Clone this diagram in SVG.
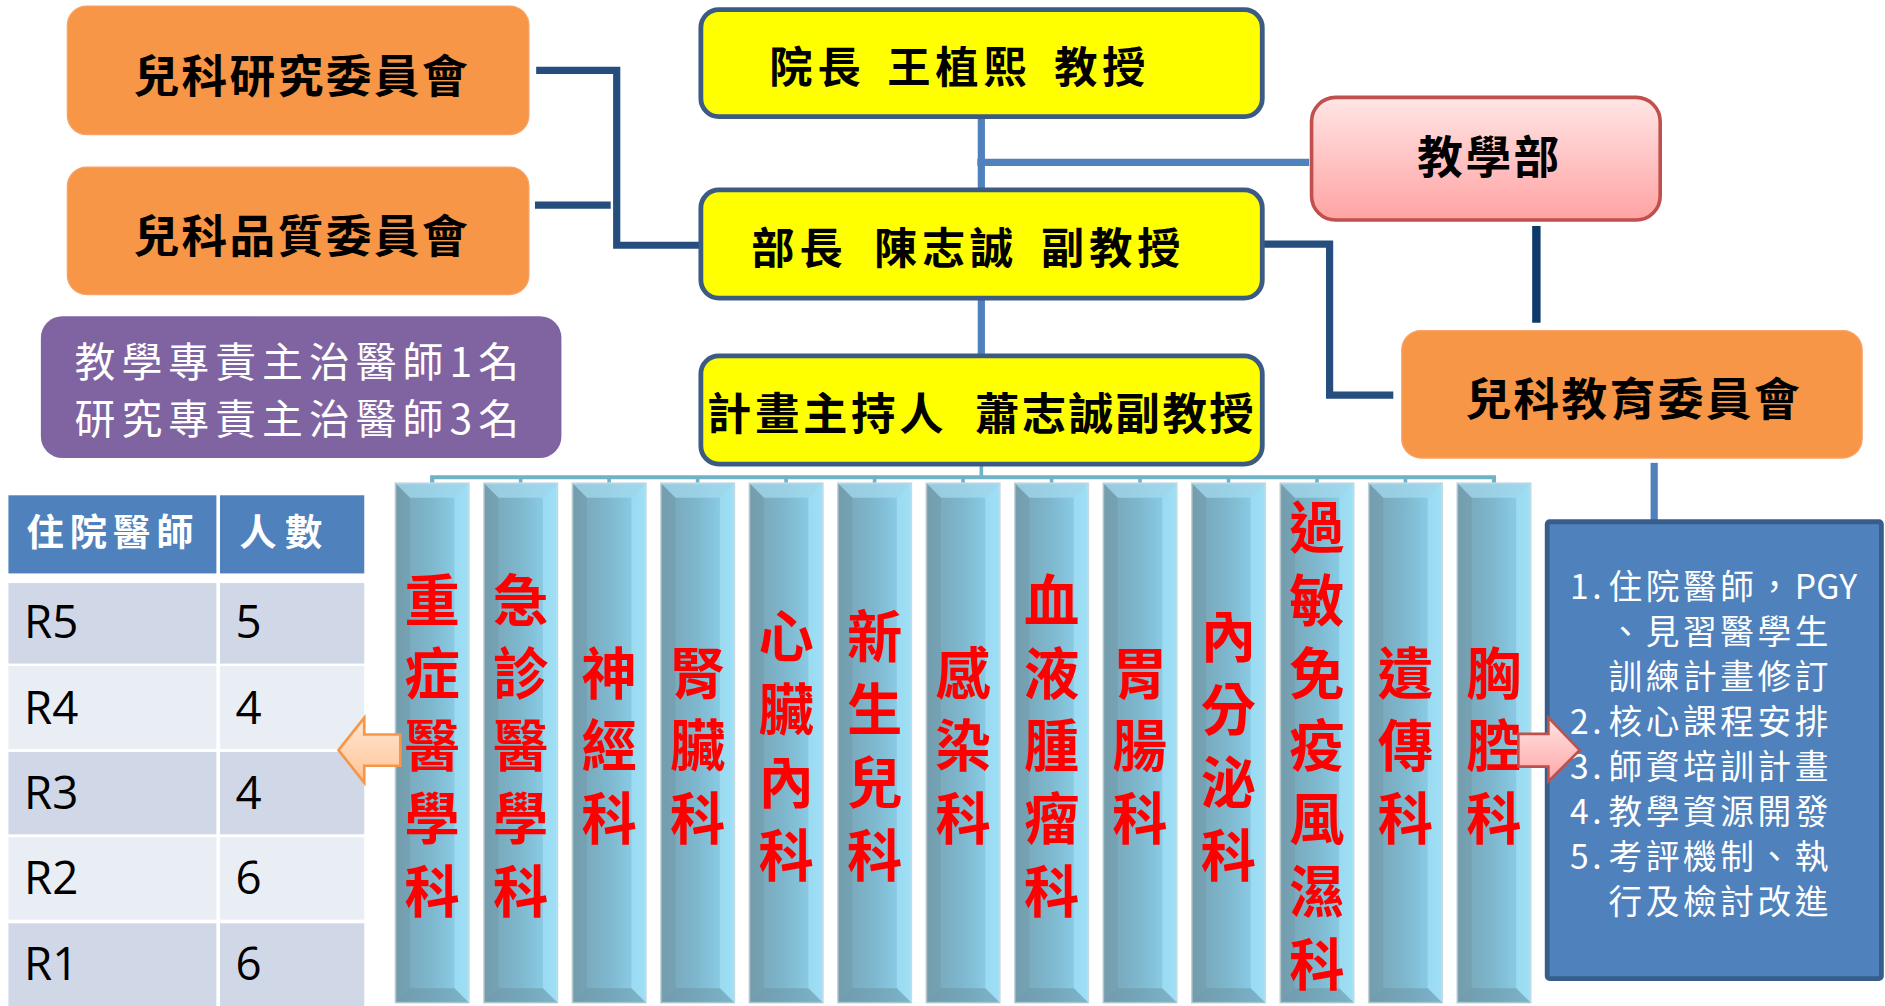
<svg xmlns="http://www.w3.org/2000/svg" xmlns:xlink="http://www.w3.org/1999/xlink" width="1885" height="1006" viewBox="0 0 1885 1006">
<style>
.kai{font-family:"Noto Sans CJK TC","Noto Sans CJK SC",sans-serif;font-weight:700;fill:#000}
.thin{font-family:"Noto Sans CJK TC","Noto Sans CJK SC",sans-serif;font-weight:400;fill:#fff}
.red{font-family:"Noto Sans CJK TC","Noto Sans CJK SC",sans-serif;font-weight:700;fill:#FF0000;font-size:46px;text-anchor:middle}
.num{font-family:"Open Sans","Liberation Sans",sans-serif;font-size:38px;fill:#000}
.orange{fill:#F79646;stroke:#F8A36A;stroke-width:1}
.yellow{fill:#FFFF00;stroke:#3B5B85;stroke-width:4}
.navy{stroke:#254D7E;stroke-width:6;fill:none}
.lblue{stroke:#4F81BD;stroke-width:6;fill:none}
.bus{stroke:#6FB3C9;stroke-width:3.5;fill:none}
.hdr{fill:#4F81BD}
.rowA{fill:#D0D8E8}
.rowB{fill:#E9EDF4}
</style>
<defs>
<linearGradient id="colGrad" x1="0" y1="0" x2="1" y2="0">
<stop offset="0" stop-color="#78A2B3"/>
<stop offset="0.5" stop-color="#7EB8CE"/>
<stop offset="1" stop-color="#90D6F1"/>
</linearGradient>
<linearGradient id="pinkGrad" x1="0" y1="0" x2="0" y2="1">
<stop offset="0" stop-color="#FFE5E5"/>
<stop offset="1" stop-color="#FFA3A3"/>
</linearGradient>
<linearGradient id="orArrow" x1="0" y1="0" x2="0" y2="1">
<stop offset="0" stop-color="#FFE6D2"/>
<stop offset="1" stop-color="#FFC596"/>
</linearGradient>
<linearGradient id="pkArrow" x1="0" y1="0" x2="0" y2="1">
<stop offset="0" stop-color="#FFE2E2"/>
<stop offset="1" stop-color="#FFA8A8"/>
</linearGradient>
<g id="col">
<rect x="0" y="0" width="61" height="432" fill="url(#colGrad)" stroke="#C9D6DC" stroke-width="1.5"/>
<polygon points="0,0 61,0 49,12 12,12" fill="#A6DCEF" opacity="0.7"/>
<polygon points="0,0 12,12 12,420 0,432" fill="#6E97A6" opacity="0.4"/>
<polygon points="61,0 61,432 49,420 49,12" fill="#A8E6FA" opacity="0.6"/>
<polygon points="0,432 61,432 49,420 12,420" fill="#6A93A3" opacity="0.5"/>
</g>
</defs>
<rect width="1885" height="1006" fill="#fff"/>
<g transform="scale(1.20217)">

<g id="connectors">
<polyline class="navy" points="446,58.5 513,58.5 513,204 583,204"/>
<line class="navy" x1="445" y1="170.6" x2="508" y2="170.6"/>
<line class="lblue" x1="816.3" y1="97" x2="816.3" y2="158"/>
<line class="lblue" x1="813" y1="135" x2="1089" y2="135"/>
<line class="lblue" x1="816.3" y1="248" x2="816.3" y2="296"/>
<polyline class="navy" points="1050,203 1106,203 1106,328.6 1159,328.6"/>
<line x1="1278" y1="188" x2="1278" y2="268.4" stroke="#0D3A6B" stroke-width="7"/>
<line class="lblue" x1="1376" y1="385" x2="1376" y2="434"/>
<line x1="816.3" y1="386" x2="816.3" y2="397" stroke="#6FB3C9" stroke-width="3"/>
<polyline class="bus" points="359.5,402 359.5,397 1242.7,397 1242.7,402"/>
<g stroke="#6FB3C9" stroke-width="3">
<line x1="433.1" y1="397" x2="433.1" y2="402"/>
<line x1="506.7" y1="397" x2="506.7" y2="402"/>
<line x1="580.3" y1="397" x2="580.3" y2="402"/>
<line x1="653.9" y1="397" x2="653.9" y2="402"/>
<line x1="727.5" y1="397" x2="727.5" y2="402"/>
<line x1="801.1" y1="397" x2="801.1" y2="402"/>
<line x1="874.7" y1="397" x2="874.7" y2="402"/>
<line x1="948.3" y1="397" x2="948.3" y2="402"/>
<line x1="1021.9" y1="397" x2="1021.9" y2="402"/>
<line x1="1095.5" y1="397" x2="1095.5" y2="402"/>
<line x1="1169.1" y1="397" x2="1169.1" y2="402"/>
</g>
</g>

<g id="research-committee">
<rect class="orange" x="56" y="5" width="384" height="107" rx="16"/>
<text class="kai" x="111" y="77.4" font-size="38" letter-spacing="2">兒科研究委員會</text>
</g>
<g id="quality-committee">
<rect class="orange" x="56" y="139" width="384" height="106" rx="16"/>
<text class="kai" x="111" y="210.7" font-size="38" letter-spacing="2">兒科品質委員會</text>
</g>
<g id="attending-note">
<rect x="34" y="263" width="433" height="118" rx="18" fill="#8064A2"/>
<text class="thin" x="62" y="313.7" font-size="34" letter-spacing="5">教學專責主治醫師1名</text>
<text class="thin" x="62" y="360.8" font-size="34" letter-spacing="5">研究專責主治醫師3名</text>
</g>

<g id="dean">
<rect class="yellow" x="583" y="8" width="467" height="89" rx="15"/>
<text class="kai" y="69" font-size="36" letter-spacing="4"><tspan x="640">院長</tspan><tspan x="738">王植熙</tspan><tspan x="877">教授</tspan></text>
</g>
<g id="chair">
<rect class="yellow" x="583" y="158" width="467" height="90" rx="15"/>
<text class="kai" y="219.5" font-size="36" letter-spacing="4"><tspan x="625">部長</tspan><tspan x="727">陳志誠</tspan><tspan x="866">副教授</tspan></text>
</g>
<g id="pi">
<rect class="yellow" x="583" y="296" width="467" height="90" rx="15"/>
<text class="kai" y="357.8" font-size="37"><tspan x="588" letter-spacing="3">計畫主持人</tspan><tspan x="811" letter-spacing="2">蕭志誠副教授</tspan></text>
</g>

<g id="education-dept">
<rect x="1091" y="81" width="290" height="102" rx="20" fill="url(#pinkGrad)" stroke="#C0504D" stroke-width="3"/>
<text class="kai" x="1179" y="144.7" font-size="38" letter-spacing="2">教學部</text>
</g>
<g id="education-committee">
<rect class="orange" x="1166" y="275" width="383" height="106" rx="16"/>
<text class="kai" x="1219" y="345.7" font-size="38" letter-spacing="2">兒科教育委員會</text>
</g>

<g id="tasks">
<rect x="1287" y="434" width="278" height="380" rx="2" fill="#4F81BD" stroke="#385D8A" stroke-width="4"/>
<g class="thin" font-size="28" letter-spacing="3">
<text y="498"><tspan x="1306">1.</tspan><tspan x="1338">住院醫師，</tspan><tspan letter-spacing="0">PGY</tspan></text>
<text x="1338" y="535.5">、見習醫學生</text>
<text x="1338" y="573">訓練計畫修訂</text>
<text y="610.5"><tspan x="1306">2.</tspan><tspan x="1338">核心課程安排</tspan></text>
<text y="648"><tspan x="1306">3.</tspan><tspan x="1338">師資培訓計畫</tspan></text>
<text y="685.5"><tspan x="1306">4.</tspan><tspan x="1338">教學資源開發</tspan></text>
<text y="723"><tspan x="1306">5.</tspan><tspan x="1338">考評機制、執</tspan></text>
<text x="1338" y="760.5">行及檢討改進</text>
</g>
</g>

<g id="resident-table">
<rect class="hdr" x="7" y="412" width="173" height="65"/>
<rect class="hdr" x="183" y="412" width="120" height="65"/>
<rect class="rowA" x="7" y="485" width="173" height="67"/>
<rect class="rowA" x="183" y="485" width="120" height="67"/>
<rect class="rowB" x="7" y="554" width="173" height="69"/>
<rect class="rowB" x="183" y="554" width="120" height="69"/>
<rect class="rowA" x="7" y="625.5" width="173" height="68.5"/>
<rect class="rowA" x="183" y="625.5" width="120" height="68.5"/>
<rect class="rowB" x="7" y="696.5" width="173" height="68.5"/>
<rect class="rowB" x="183" y="696.5" width="120" height="68.5"/>
<rect class="rowA" x="7" y="768" width="173" height="69"/>
<rect class="rowA" x="183" y="768" width="120" height="69"/>
<text class="kai" x="22" y="454" font-size="31" letter-spacing="5" style="fill:#fff">住院醫師</text>
<text class="kai" x="199" y="454" font-size="31" letter-spacing="7" style="fill:#fff">人數</text>
<text class="num" x="20" y="531">R5</text><text class="num" x="196" y="531">5</text>
<text class="num" x="20" y="602">R4</text><text class="num" x="196" y="602">4</text>
<text class="num" x="20" y="673">R3</text><text class="num" x="196" y="673">4</text>
<text class="num" x="20" y="744">R2</text><text class="num" x="196" y="744">6</text>
<text class="num" x="20" y="815">R1</text><text class="num" x="196" y="815">6</text>
</g>

<g id="div-critical"><use href="#col" x="329" y="402"/><text class="red"><tspan x="359.5" y="516.6">重</tspan><tspan x="359.5" y="577.1">症</tspan><tspan x="359.5" y="637.6">醫</tspan><tspan x="359.5" y="698.1">學</tspan><tspan x="359.5" y="758.6">科</tspan></text></g>
<g id="div-emergency"><use href="#col" x="402.6" y="402"/><text class="red"><tspan x="433.1" y="516.6">急</tspan><tspan x="433.1" y="577.1">診</tspan><tspan x="433.1" y="637.6">醫</tspan><tspan x="433.1" y="698.1">學</tspan><tspan x="433.1" y="758.6">科</tspan></text></g>
<g id="div-neuro"><use href="#col" x="476.2" y="402"/><text class="red"><tspan x="506.7" y="577.1">神</tspan><tspan x="506.7" y="637.6">經</tspan><tspan x="506.7" y="698.1">科</tspan></text></g>
<g id="div-nephro"><use href="#col" x="549.8" y="402"/><text class="red"><tspan x="580.3" y="577.1">腎</tspan><tspan x="580.3" y="637.6">臟</tspan><tspan x="580.3" y="698.1">科</tspan></text></g>
<g id="div-cardio"><use href="#col" x="623.4" y="402"/><text class="red"><tspan x="653.9" y="546.85">心</tspan><tspan x="653.9" y="607.35">臟</tspan><tspan x="653.9" y="667.85">內</tspan><tspan x="653.9" y="728.35">科</tspan></text></g>
<g id="div-neonatal"><use href="#col" x="697" y="402"/><text class="red"><tspan x="727.5" y="546.85">新</tspan><tspan x="727.5" y="607.35">生</tspan><tspan x="727.5" y="667.85">兒</tspan><tspan x="727.5" y="728.35">科</tspan></text></g>
<g id="div-infection"><use href="#col" x="770.6" y="402"/><text class="red"><tspan x="801.1" y="577.1">感</tspan><tspan x="801.1" y="637.6">染</tspan><tspan x="801.1" y="698.1">科</tspan></text></g>
<g id="div-hemonc"><use href="#col" x="844.2" y="402"/><text class="red"><tspan x="874.7" y="516.6">血</tspan><tspan x="874.7" y="577.1">液</tspan><tspan x="874.7" y="637.6">腫</tspan><tspan x="874.7" y="698.1">瘤</tspan><tspan x="874.7" y="758.6">科</tspan></text></g>
<g id="div-gi"><use href="#col" x="917.8" y="402"/><text class="red"><tspan x="948.3" y="577.1">胃</tspan><tspan x="948.3" y="637.6">腸</tspan><tspan x="948.3" y="698.1">科</tspan></text></g>
<g id="div-endo"><use href="#col" x="991.4" y="402"/><text class="red"><tspan x="1021.9" y="546.85">內</tspan><tspan x="1021.9" y="607.35">分</tspan><tspan x="1021.9" y="667.85">泌</tspan><tspan x="1021.9" y="728.35">科</tspan></text></g>
<g id="div-allergy"><use href="#col" x="1065" y="402"/><text class="red"><tspan x="1095.5" y="456.1">過</tspan><tspan x="1095.5" y="516.6">敏</tspan><tspan x="1095.5" y="577.1">免</tspan><tspan x="1095.5" y="637.6">疫</tspan><tspan x="1095.5" y="698.1">風</tspan><tspan x="1095.5" y="758.6">濕</tspan><tspan x="1095.5" y="819.1">科</tspan></text></g>
<g id="div-genetics"><use href="#col" x="1138.6" y="402"/><text class="red"><tspan x="1169.1" y="577.1">遺</tspan><tspan x="1169.1" y="637.6">傳</tspan><tspan x="1169.1" y="698.1">科</tspan></text></g>
<g id="div-chest"><use href="#col" x="1212.2" y="402"/><text class="red"><tspan x="1242.7" y="577.1">胸</tspan><tspan x="1242.7" y="637.6">腔</tspan><tspan x="1242.7" y="698.1">科</tspan></text></g>

<g id="arrow-left">
<polygon points="281.6,624 303,597 303,611 333,611 333,637 303,637 303,651" fill="url(#orArrow)" stroke="#F79646" stroke-width="2.2" stroke-linejoin="miter"/>
</g>
<g id="arrow-right">
<polygon points="1263,610.5 1288,610.5 1288,597 1314,624 1288,650 1288,637.7 1263,637.7" fill="url(#pkArrow)" stroke="#C0504D" stroke-width="2.2"/>
</g>
</g>
</svg>
